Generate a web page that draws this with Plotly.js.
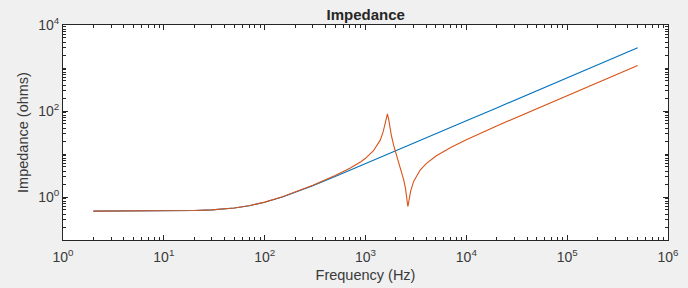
<!DOCTYPE html>
<html>
<head>
<meta charset="utf-8">
<script src="https://cdn.plot.ly/plotly-3.0.1.min.js"></script>
<style>html,body{margin:0;padding:0;background:#f0f0f0;}#chart{width:688px;height:288px;}</style>
</head>
<body>
<div id="chart"></div>
<script>
// Frequency samples (Hz)
var freq = [2, 5, 10, 20, 30, 50, 70, 100, 150, 200, 300, 500, 700, 900, 1000, 1200, 1400, 1500, 1550, 1600, 1650, 1700, 1750, 1800, 1900, 2000, 2200, 2400, 2500, 2550, 2600, 2630, 2660, 2700, 2800, 3000, 3300, 3500, 4000, 5000, 7000, 10000, 20000, 50000, 100000, 200000, 500000];
// Blue series impedance (ohms)
var zBlue = [0.470, 0.471, 0.474, 0.485, 0.502, 0.555, 0.626, 0.755, 1.00, 1.27, 1.83, 2.99, 4.16, 5.34, 5.92, 7.10, 8.28, 8.87, 9.16, 9.45, 9.75, 10.04, 10.34, 10.63, 11.22, 11.82, 13.0, 14.18, 14.77, 15.06, 15.36, 15.53, 15.71, 15.95, 16.54, 17.72, 19.49, 20.67, 23.62, 29.53, 41.34, 59.06, 118.1, 295.3, 590.6, 1181, 2953];
// Orange series impedance (ohms)
var zOrange = [0.470, 0.471, 0.474, 0.485, 0.502, 0.556, 0.628, 0.760, 1.01, 1.29, 1.87, 3.15, 4.65, 6.6, 7.95, 11.9, 21.0, 33.5, 45, 66, 86, 63, 41, 28, 16, 10.5, 5.3, 2.45, 1.5, 1.0, 0.72, 0.60, 0.68, 0.85, 1.35, 2.3, 3.5, 4.3, 6.0, 9.0, 14.2, 21.5, 45, 113, 227, 455, 1140];

var xTickVals = [1, 10, 100, 1000, 10000, 100000, 1000000];
var xTickText = ['10<sup>0</sup>', '10<sup>1</sup>', '10<sup>2</sup>', '10<sup>3</sup>', '10<sup>4</sup>', '10<sup>5</sup>', '10<sup>6</sup>'];
var yTickVals = [1, 100, 10000];
var yTickText = ['10<sup>0</sup>', '10<sup>2</sup>', '10<sup>4</sup>'];

var axColor = '#262626';
var fontFam = 'Liberation Sans, Arial, Helvetica, sans-serif';

var traces = [
  {x: freq, y: zBlue, type: 'scatter', mode: 'lines', line: {color: '#0072BD', width: 1.1}, hoverinfo: 'skip'},
  {x: freq, y: zOrange, type: 'scatter', mode: 'lines', line: {color: '#D95319', width: 1.1}, hoverinfo: 'skip'}
];

var commonAxis = {
  type: 'log',
  showline: true, linecolor: axColor, linewidth: 1, mirror: 'allticks',
  ticks: 'inside', ticklen: 5, tickwidth: 1, tickcolor: axColor,
  showgrid: false, zeroline: false,
  tickfont: {family: fontFam, size: 14, color: '#3a3a3a'},
  tickmode: 'array',
  minor: {dtick: 'D1', ticks: 'inside', ticklen: 3, tickwidth: 1, tickcolor: axColor, showgrid: false}
};

var layout = {
  width: 688, height: 288,
  paper_bgcolor: '#f0f0f0', plot_bgcolor: '#ffffff',
  margin: {l: 63, r: 20, t: 25, b: 48},
  showlegend: false,
  font: {family: fontFam, color: '#262626'},
  title: {text: '<b>Impedance</b>', font: {family: fontFam, size: 15, color: '#262626'}, x: 0.5315, xanchor: 'center', y: 0.95, yanchor: 'middle'},
  xaxis: Object.assign({}, commonAxis, {
    range: [0, 6], tickvals: xTickVals, ticktext: xTickText, ticklabelstandoff: 4,
    title: {text: 'Frequency (Hz)', font: {family: fontFam, size: 14.5, color: '#3a3a3a'}, standoff: 6}
  }),
  yaxis: Object.assign({}, commonAxis, {
    range: [-1, 4], tickvals: yTickVals, ticktext: yTickText,
    title: {text: 'Impedance (ohms)', font: {family: fontFam, size: 14.5, color: '#3a3a3a'}, standoff: 6}
  })
};

Plotly.newPlot('chart', traces, layout, {staticPlot: true, displayModeBar: false});
</script>
</body>
</html>
